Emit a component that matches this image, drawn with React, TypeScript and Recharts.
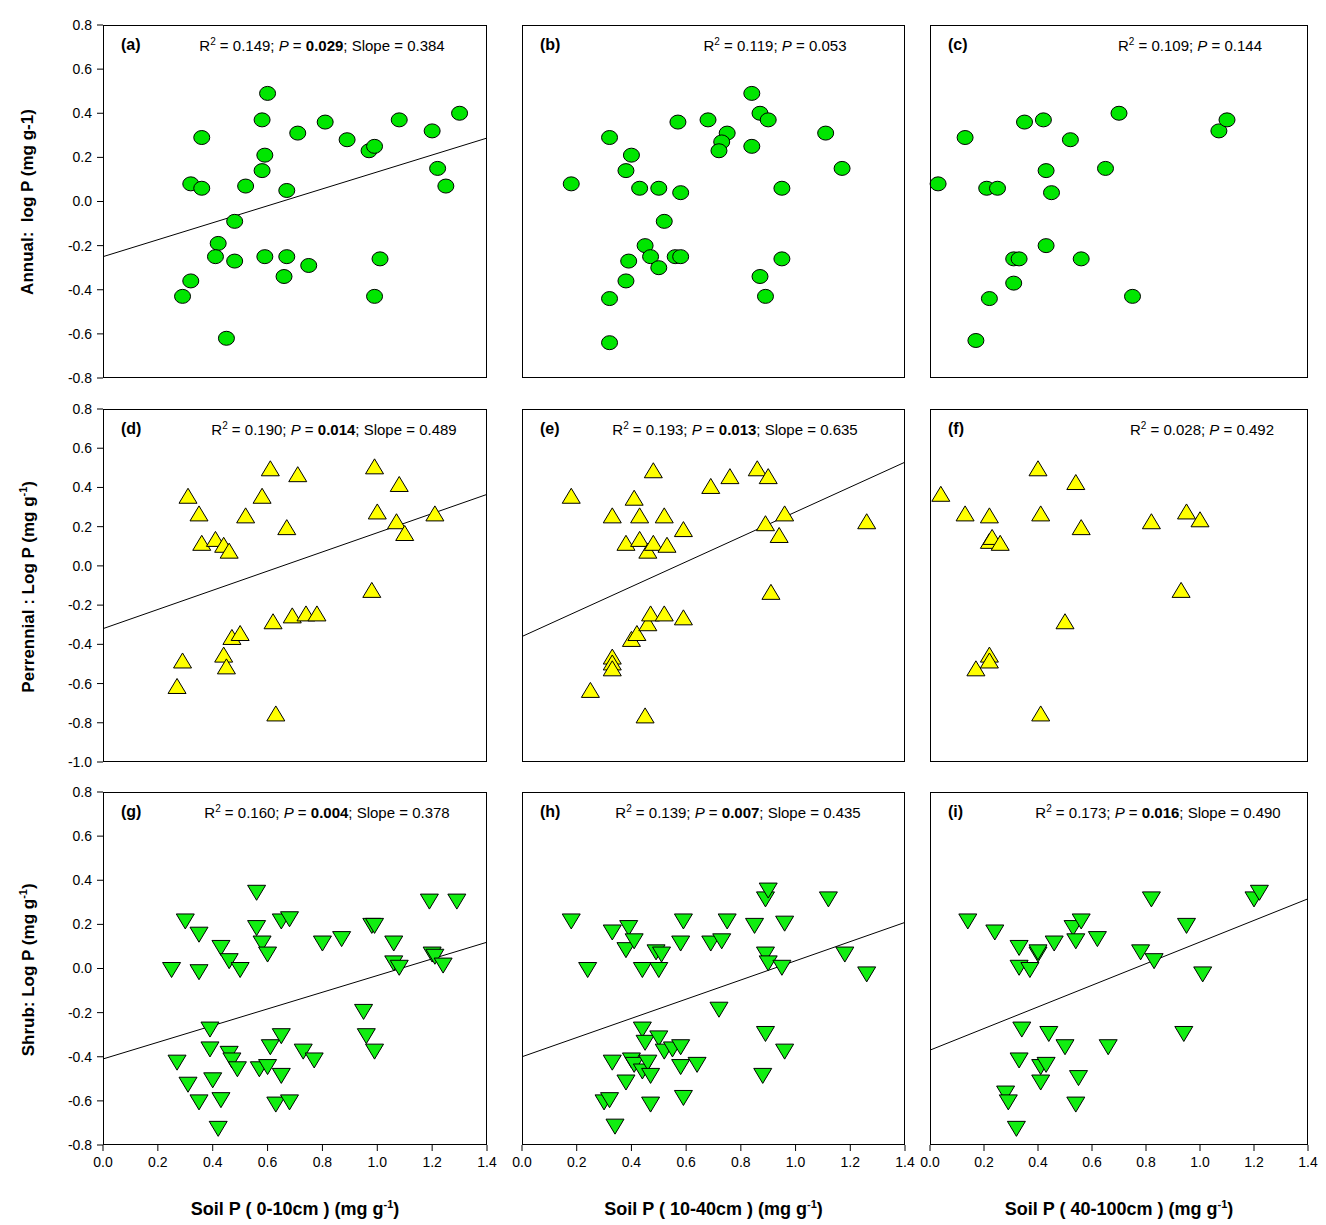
import React from 'react';
import { ScatterChart, Scatter, XAxis, YAxis, ReferenceLine } from 'recharts';

type Pt = { x: number; y: number };
const toPts = (a: number[][]): Pt[] => a.map(([x, y]) => ({ x, y }));

// ---- data ----
const annualA = toPts([[0.29,-0.43],[0.32,-0.36],[0.32,0.08],[0.36,0.06],[0.36,0.29],[0.42,-0.19],[0.41,-0.25],[0.45,-0.62],[0.48,-0.09],[0.48,-0.27],[0.52,0.07],[0.6,0.49],[0.58,0.37],[0.59,0.21],[0.58,0.14],[0.59,-0.25],[0.67,-0.25],[0.66,-0.34],[0.67,0.05],[0.71,0.31],[0.75,-0.29],[0.81,0.36],[0.89,0.28],[0.97,0.23],[0.99,0.25],[0.99,-0.43],[1.01,-0.26],[1.08,0.37],[1.2,0.32],[1.22,0.15],[1.25,0.07],[1.3,0.4]]);
const annualB = toPts([[0.18,0.08],[0.32,0.29],[0.32,-0.44],[0.32,-0.64],[0.38,0.14],[0.4,0.21],[0.38,-0.36],[0.39,-0.27],[0.43,0.06],[0.45,-0.2],[0.47,-0.25],[0.5,-0.3],[0.5,0.06],[0.52,-0.09],[0.56,-0.25],[0.58,-0.25],[0.57,0.36],[0.58,0.04],[0.68,0.37],[0.75,0.31],[0.73,0.27],[0.72,0.23],[0.84,0.49],[0.84,0.25],[0.87,0.4],[0.9,0.37],[0.87,-0.34],[0.89,-0.43],[0.95,0.06],[0.95,-0.26],[1.11,0.31],[1.17,0.15]]);
const annualC = toPts([[0.03,0.08],[0.13,0.29],[0.21,0.06],[0.25,0.06],[0.17,-0.63],[0.22,-0.44],[0.31,-0.26],[0.33,-0.26],[0.31,-0.37],[0.35,0.36],[0.42,0.37],[0.43,0.14],[0.45,0.04],[0.43,-0.2],[0.52,0.28],[0.56,-0.26],[0.65,0.15],[0.7,0.4],[0.75,-0.43],[1.07,0.32],[1.1,0.37]]);
const perenD = toPts([[0.27,-0.62],[0.29,-0.49],[0.31,0.35],[0.35,0.26],[0.36,0.11],[0.41,0.13],[0.44,0.1],[0.46,0.07],[0.44,-0.46],[0.45,-0.52],[0.47,-0.37],[0.5,-0.35],[0.52,0.25],[0.58,0.35],[0.61,0.49],[0.62,-0.29],[0.63,-0.76],[0.67,0.19],[0.69,-0.26],[0.71,0.46],[0.74,-0.25],[0.78,-0.25],[0.98,-0.13],[0.99,0.5],[1.0,0.27],[1.07,0.22],[1.08,0.41],[1.1,0.16],[1.21,0.26]]);
const perenE = toPts([[0.18,0.35],[0.25,-0.64],[0.33,-0.47],[0.33,-0.5],[0.33,-0.53],[0.33,0.25],[0.38,0.11],[0.4,-0.38],[0.41,0.34],[0.42,-0.35],[0.43,0.25],[0.43,0.13],[0.45,-0.77],[0.46,0.07],[0.46,-0.3],[0.47,-0.25],[0.48,0.48],[0.48,0.11],[0.52,-0.25],[0.52,0.25],[0.53,0.1],[0.59,0.18],[0.59,-0.27],[0.69,0.4],[0.76,0.45],[0.86,0.49],[0.89,0.21],[0.9,0.45],[0.91,-0.14],[0.94,0.15],[0.96,0.26],[1.26,0.22]]);
const perenF = toPts([[0.04,0.36],[0.13,0.26],[0.17,-0.53],[0.22,0.25],[0.22,0.12],[0.23,0.14],[0.26,0.11],[0.22,-0.46],[0.22,-0.49],[0.4,0.49],[0.41,0.26],[0.41,-0.76],[0.5,-0.29],[0.54,0.42],[0.56,0.19],[0.82,0.22],[0.93,-0.13],[0.95,0.27],[1.0,0.23]]);
const shrubG = toPts([[0.25,0.0],[0.27,-0.42],[0.3,0.22],[0.31,-0.52],[0.35,0.16],[0.35,-0.01],[0.35,-0.6],[0.39,-0.27],[0.39,-0.36],[0.4,-0.5],[0.42,-0.72],[0.43,0.1],[0.43,-0.59],[0.46,0.04],[0.46,-0.38],[0.47,-0.41],[0.49,-0.45],[0.5,0.0],[0.56,0.35],[0.56,0.19],[0.58,0.12],[0.57,-0.45],[0.6,0.07],[0.6,-0.44],[0.61,-0.35],[0.63,-0.61],[0.65,-0.3],[0.65,-0.48],[0.65,0.22],[0.68,0.23],[0.68,-0.6],[0.73,-0.37],[0.77,-0.41],[0.8,0.12],[0.87,0.14],[0.95,-0.19],[0.96,-0.3],[0.98,0.2],[0.99,0.2],[0.99,-0.37],[1.06,0.12],[1.06,0.03],[1.08,0.01],[1.19,0.31],[1.2,0.07],[1.21,0.06],[1.24,0.02],[1.29,0.31]]);
const shrubH = toPts([[0.18,0.22],[0.24,0.0],[0.3,-0.6],[0.32,-0.59],[0.33,0.17],[0.33,-0.42],[0.34,-0.71],[0.38,0.09],[0.38,-0.51],[0.39,0.19],[0.4,-0.41],[0.41,0.13],[0.41,-0.43],[0.44,0.0],[0.44,-0.27],[0.44,-0.46],[0.45,-0.33],[0.46,-0.42],[0.47,-0.61],[0.47,-0.48],[0.49,0.08],[0.5,-0.31],[0.5,0.0],[0.51,0.07],[0.52,-0.37],[0.55,-0.36],[0.58,0.12],[0.58,-0.44],[0.58,-0.35],[0.59,-0.58],[0.59,0.22],[0.64,-0.43],[0.69,0.12],[0.72,-0.18],[0.73,0.13],[0.75,0.22],[0.85,0.2],[0.88,-0.48],[0.89,0.32],[0.9,0.36],[0.89,0.07],[0.89,-0.29],[0.9,0.03],[0.95,0.01],[0.96,0.21],[0.96,-0.37],[1.12,0.32],[1.18,0.07],[1.26,-0.02]]);
const shrubI = toPts([[0.14,0.22],[0.24,0.17],[0.28,-0.56],[0.29,-0.6],[0.32,-0.72],[0.33,0.1],[0.33,0.01],[0.34,-0.27],[0.33,-0.41],[0.37,0.0],[0.4,0.07],[0.4,0.08],[0.41,-0.44],[0.41,-0.51],[0.43,-0.43],[0.44,-0.29],[0.46,0.12],[0.5,-0.35],[0.53,0.19],[0.54,0.13],[0.55,-0.49],[0.54,-0.61],[0.56,0.22],[0.62,0.14],[0.66,-0.35],[0.78,0.08],[0.82,0.32],[0.83,0.04],[0.95,0.2],[0.94,-0.29],[1.01,-0.02],[1.2,0.32],[1.22,0.35]]);

const xTicks = [0, 0.2, 0.4, 0.6, 0.8, 1.0, 1.2, 1.4];
const yTicksA = [-0.8, -0.6, -0.4, -0.2, 0, 0.2, 0.4, 0.6, 0.8];
const yTicksP = [-1.0, -0.8, -0.6, -0.4, -0.2, 0, 0.2, 0.4, 0.6, 0.8];

const panelLetters = ['(a)', '(b)', '(c)', '(d)', '(e)', '(f)', '(g)', '(h)', '(i)'];
const panelData = [annualA, annualB, annualC, perenD, perenE, perenF, shrubG, shrubH, shrubI];
// [intercept, slope] of fitted lines (null = no line)
const fits: ([number, number] | null)[] = [[-0.25, 0.384], null, null, [-0.32, 0.489], [-0.36, 0.635], null, [-0.41, 0.378], [-0.40, 0.435], [-0.37, 0.49]];
const stats: { r2: string; p: string; bold: boolean; slope?: string }[] = [
  { r2: '0.149', p: '0.029', bold: true, slope: '0.384' },
  { r2: '0.119', p: '0.053', bold: false },
  { r2: '0.109', p: '0.144', bold: false },
  { r2: '0.190', p: '0.014', bold: true, slope: '0.489' },
  { r2: '0.193', p: '0.013', bold: true, slope: '0.635' },
  { r2: '0.028', p: '0.492', bold: false },
  { r2: '0.160', p: '0.004', bold: true, slope: '0.378' },
  { r2: '0.139', p: '0.007', bold: true, slope: '0.435' },
  { r2: '0.173', p: '0.016', bold: true, slope: '0.490' },
];
const statCenters = [322, 775, 1190, 334, 735, 1202, 327, 738, 1158];

const colLeft = [103, 522, 930];
const colW = [384, 383, 378];
const rowTop = [25, 409, 792];
const rowH = 353;
const yDomains: [number, number][] = [[-0.8, 0.8], [-1.0, 0.8], [-0.8, 0.8]];
const yTickSets = [yTicksA, yTicksP, yTicksA];

const FONT = 'Arial, "Liberation Sans", sans-serif';

const Circle = (p: any) => (
  <ellipse cx={p.cx} cy={p.cy} rx={8} ry={7} fill="#00e600" stroke="#000" strokeWidth={1} />
);
const TriUp = (p: any) => (
  <polygon points={`${p.cx},${p.cy - 9} ${p.cx + 9},${p.cy + 6} ${p.cx - 9},${p.cy + 6}`} fill="#ffff00" stroke="#000" strokeWidth={1} />
);
const TriDown = (p: any) => (
  <polygon points={`${p.cx - 9},${p.cy - 6} ${p.cx + 9},${p.cy - 6} ${p.cx},${p.cy + 9}`} fill="#11ee11" stroke="#000" strokeWidth={1} />
);
const shapes = [Circle, TriUp, TriDown];

function Panel({ i }: { i: number }) {
  const r = Math.floor(i / 3);
  const c = i % 3;
  const fit = fits[i];
  const showY = c === 0;
  const showX = r === 2;
  const w = colW[c];
  return (
    <>
      <div style={{ position: 'absolute', left: colLeft[c] - 60, top: rowTop[r] - 10 }}>
        <ScatterChart width={w + 70} height={rowH + 40} margin={{ top: 10, right: 10, left: showY ? 0 : 60, bottom: showX ? 0 : 30 }}>
          <XAxis type="number" dataKey="x" domain={[0, 1.4]} ticks={xTicks} hide={!showX} height={30}
            axisLine={false} tickLine={{ stroke: '#000' }} tickSize={6}
            tick={{ fill: '#000', fontSize: 14, fontFamily: FONT, dy: 4 }} tickFormatter={(v: number) => v.toFixed(1)} interval={0} />
          <YAxis type="number" dataKey="y" domain={yDomains[r]} ticks={yTickSets[r]} hide={!showY} width={60}
            axisLine={false} tickLine={{ stroke: '#000' }} tickSize={6}
            tick={{ fill: '#000', fontSize: 14, fontFamily: FONT, dx: -3 }} tickFormatter={(v: number) => v.toFixed(1)} interval={0} />
          {fit && (
            <ReferenceLine segment={[{ x: 0, y: fit[0] }, { x: 1.4, y: fit[0] + fit[1] * 1.4 }]} stroke="#000" strokeWidth={1} />
          )}
          <Scatter data={panelData[i]} shape={shapes[r]} isAnimationActive={false} />
        </ScatterChart>
      </div>
      <div style={{ position: 'absolute', left: colLeft[c], top: rowTop[r], width: w, height: rowH, border: '1px solid #000', boxSizing: 'border-box', pointerEvents: 'none' }} />
      <div style={{ position: 'absolute', left: colLeft[c] + 18, top: rowTop[r] + 11, fontSize: 16, fontWeight: 'bold', fontFamily: FONT }}>{panelLetters[i]}</div>
      <div style={{ position: 'absolute', left: statCenters[i] - 200, width: 400, textAlign: 'center', top: rowTop[r] + 11, fontSize: 15, fontFamily: FONT, whiteSpace: 'nowrap' }}>
        R<sup style={{ fontSize: 10 }}>2</sup> = {stats[i].r2}; <i>P</i> = {stats[i].bold ? <b>{stats[i].p}</b> : stats[i].p}
        {stats[i].slope ? `; Slope = ${stats[i].slope}` : ''}
      </div>
    </>
  );
}

const yLabels = [
  <>Annual:&nbsp; log P (mg g-1)</>,
  <>Perrennial : Log P (mg g<sup style={{ fontSize: 11 }}>-1</sup>)</>,
  <>Shrub: Log P (mg g<sup style={{ fontSize: 11 }}>-1</sup>)</>,
];
const xLabels = ['Soil P ( 0-10cm ) (mg g', 'Soil P ( 10-40cm ) (mg g', 'Soil P ( 40-100cm ) (mg g'];

export default function App() {
  return (
    <div style={{ position: 'absolute', left: 0, top: 0, width: 1326, height: 1225, background: '#fff', fontFamily: FONT }}>
      {Array.from({ length: 9 }, (_, i) => <Panel key={i} i={i} />)}
      {yLabels.map((l, r) => (
        <div key={r} style={{ position: 'absolute', left: 28 - 200, top: rowTop[r] + rowH / 2 - 10, width: 400, textAlign: 'center', transform: 'rotate(-90deg)', fontSize: 17, fontWeight: 'bold', whiteSpace: 'nowrap' }}>{l}</div>
      ))}
      {xLabels.map((l, c) => (
        <div key={c} style={{ position: 'absolute', left: colLeft[c] + colW[c] / 2 - 200, width: 400, top: 1198, textAlign: 'center', fontSize: 18, fontWeight: 'bold', whiteSpace: 'nowrap' }}>
          {l}<sup style={{ fontSize: 11 }}>-1</sup>)
        </div>
      ))}
    </div>
  );
}
